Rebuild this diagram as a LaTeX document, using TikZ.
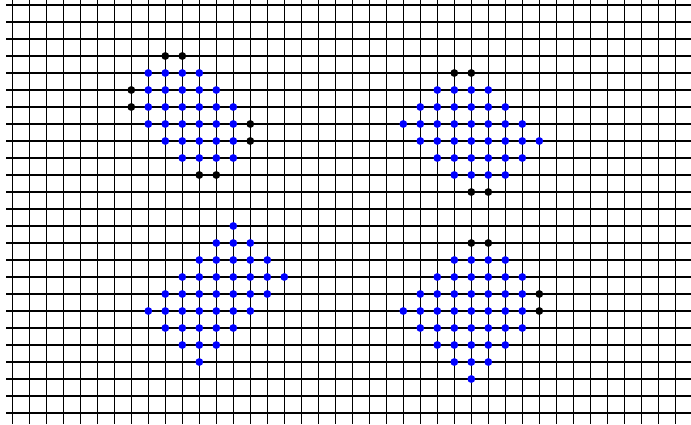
\documentclass[tikz,border=0pt]{standalone}
\begin{document}
\begin{tikzpicture}[x=1pt,y=-1pt,
  gridline/.style={line width=1.1pt,black},
  bluedot/.style={fill={rgb,255:red,0;green,0;blue,255}},
  blackdot/.style={fill=black}]
\useasboundingbox (0,0) rectangle (691,424);
\fill[white] (0,0) rectangle (691,424);
\foreach \i in {0,...,39} \draw[gridline] (12.3+17*\i,0) -- (12.3+17*\i,424);
\foreach \j in {0,...,24} \draw[gridline] (6,5+17*\j) -- (691,5+17*\j);
\begin{scope}[shift={(12.3,5)},x=17pt,y=-17pt]
  \foreach \r/\a/\b in {4/8/11,5/8/12,6/8/13,7/8/13,8/9/13,9/10/13,
      5/25/28,6/24/29,7/23/30,8/24/31,9/25/30,10/26/29,
      13/13/13,14/12/14,15/11/15,16/10/16,17/9/15,18/8/14,19/9/13,20/10/12,21/11/11,
      15/26/29,16/25/30,17/24/30,18/23/30,19/24/30,20/25/29,21/26/28,22/27/27}
    \foreach \c in {\a,...,\b}
      \fill[bluedot] (\c,\r) circle[radius=3.9pt];
  \foreach \c/\r in {9/3,10/3,7/5,7/6,14/7,14/8,11/10,12/10,
      26/4,27/4,27/11,28/11,
      27/14,28/14,31/17,31/18}
    \fill[blackdot] (\c,\r) circle[radius=3.9pt];
\end{scope}
\end{tikzpicture}
\end{document}
